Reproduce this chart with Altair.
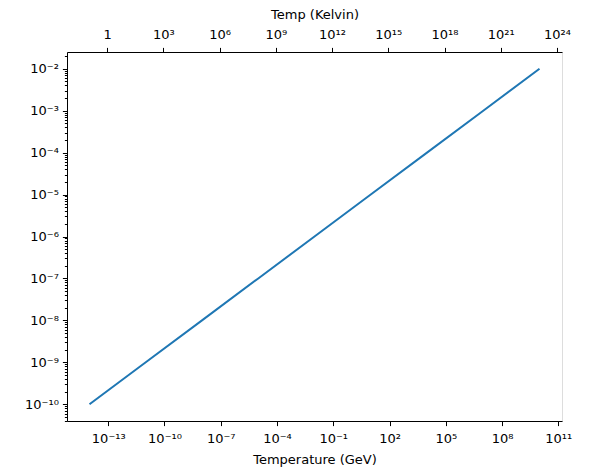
import altair as alt
import pandas as pd

# Data (straight line on log-log axes)
temp_gev = [1e-14, 1e-11, 1e-8, 1e-5, 1e-2, 1e1, 1e4, 1e7, 1e10]
value = [1e-10, 1e-9, 1e-8, 1e-7, 1e-6, 1e-5, 1e-4, 1e-3, 1e-2]
gev_to_kelvin = 1.160452e13

x_ticks = [1e-13, 1e-10, 1e-7, 1e-4, 1e-1, 1e2, 1e5, 1e8, 1e11]
k_ticks = [1, 1e3, 1e6, 1e9, 1e12, 1e15, 1e18, 1e21, 1e24]
y_ticks = [1e-10, 1e-9, 1e-8, 1e-7, 1e-6, 1e-5, 1e-4, 1e-3, 1e-2]
y_minor = [m * 10.0 ** e for e in range(-11, -1) for m in range(2, 10)]
y_minor = [v for v in y_minor if 10 ** -10.4 <= v <= 10 ** -1.6]

x_domain = [10 ** -15.2, 10 ** 11.2]
k_domain = [10 ** -15.2 * gev_to_kelvin, 10 ** 11.2 * gev_to_kelvin]
y_domain = [10 ** -10.4, 10 ** -1.6]

df = pd.DataFrame({"gev": temp_gev, "val": value})

sup = {'-': '⁻', '0': '⁰', '1': '¹', '2': '²', '3': '³', '4': '⁴',
       '5': '⁵', '6': '⁶', '7': '⁷', '8': '⁸', '9': '⁹'}
lg = "log(datum.value)/LN10"
e = f"''+round({lg})"
for k, v in sup.items():
    e = f"replace({e}, regexp('{k}','g'), '{v}')"
is_major = f"abs({lg} - round({lg})) < 0.001"
label_expr = f"!({is_major}) ? '' : (round({lg}) == 0 ? '1' : '10' + {e})"

font = "DejaVu Sans"
axis_common = dict(
    labelFont=font, titleFont=font, labelFontSize=13, titleFontSize=13,
    titleFontWeight="normal", labelColor="black", titleColor="black",
    tickColor="black", domainColor="black", grid=False, tickSize=4.6,
    tickWidth=1, domainWidth=1, labelExpr=label_expr,
)

line = alt.Chart(df).mark_line(color="#1f77b4", strokeWidth=2, clip=True).encode(
    x=alt.X("gev:Q", scale=alt.Scale(type="log", domain=x_domain, nice=False),
            axis=alt.Axis(values=x_ticks, title="Temperature (GeV)", orient="bottom",
                          labelPadding=7, titlePadding=8, **axis_common)),
    y=alt.Y("val:Q", scale=alt.Scale(type="log", domain=y_domain, nice=False),
            axis=alt.Axis(values=y_ticks + y_minor, title=None, orient="left",
                          labelPadding=4,
                          **{**axis_common,
                             "tickSize": {"condition": {"test": is_major, "value": 4.6},
                                          "value": 2.6}})),
)

top = alt.Chart(df).transform_calculate(
    kelvin=f"datum.gev * {gev_to_kelvin}"
).mark_point(opacity=0).encode(
    x=alt.X("kelvin:Q", scale=alt.Scale(type="log", domain=k_domain, nice=False),
            axis=alt.Axis(values=k_ticks, title="Temp (Kelvin)", orient="top",
                          labelPadding=6, titlePadding=7, **axis_common)),
)

chart = alt.layer(line, top).resolve_scale(x="independent").properties(
    width=495, height=369,
    autosize=alt.AutoSizeParams(type="none"),
    padding={"left": 59, "top": 44, "right": 40, "bottom": 55},
).configure_view(stroke="black", strokeWidth=1).configure(background="white")

chart.save("out.html", embed_options={"renderer": "svg", "actions": False})
